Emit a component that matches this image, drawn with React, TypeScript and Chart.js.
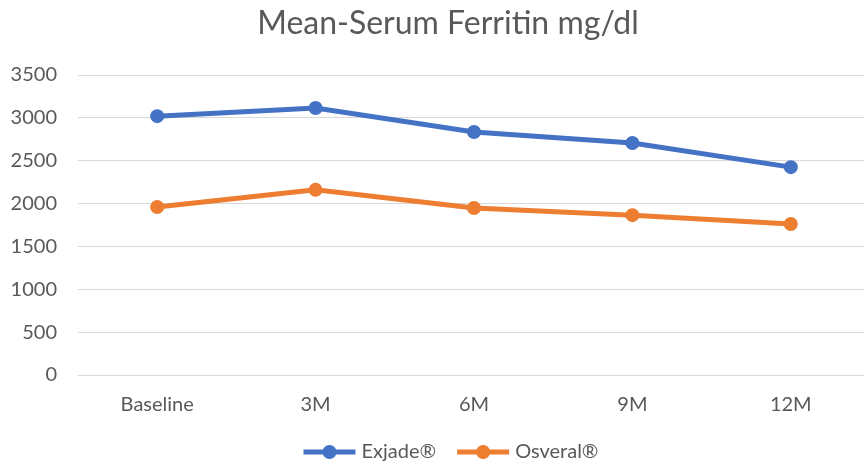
import React, { useEffect, useRef } from "react";
import { Chart, registerables } from "chart.js";

Chart.register(...registerables);

const categories = ["Baseline", "3M", "6M", "9M", "12M"];
const exjade = [3020, 3115, 2835, 2707, 2425];
const osveral = [1960, 2160, 1948, 1865, 1762];
const seriesNames = ["Exjade®", "Osveral®"];
const titleText = "Mean-Serum Ferritin mg/dl";

const BLUE = "#4472C4";
const ORANGE = "#ED7D31";
const GRAY = "#595959";
const FONT = "Lato, 'Open Sans', sans-serif";

export default function App() {
  const ref = useRef<HTMLCanvasElement | null>(null);
  useEffect(() => {
    if (!ref.current) return;
    const titlePlugin = {
      id: "customTitle",
      afterDraw(chart: any) {
        const ctx = chart.ctx;
        ctx.save();
        ctx.fillStyle = GRAY;
        ctx.font = `32px ${FONT}`;
        ctx.textAlign = "center";
        ctx.textBaseline = "middle";
        ctx.fillText(titleText, 448, 24);
        ctx.restore();
      },
    };
    const legendPlugin = {
      id: "customLegend",
      afterDraw(chart: any) {
        const ctx = chart.ctx;
        ctx.save();
        ctx.font = `20px ${FONT}`;
        ctx.textBaseline = "middle";
        const y = 452;
        const items = chart.data.datasets.map((d: any) => ({
          label: d.label,
          color: d.borderColor,
          w: ctx.measureText(d.label).width,
        }));
        const lineW = 52;
        const gapText = 6;
        const gapItem = 21;
        const total = items.reduce((s: number, it: any) => s + lineW + gapText + it.w, 0) + gapItem * (items.length - 1);
        let x = 451 - total / 2;
        items.forEach((it: any) => {
          ctx.strokeStyle = it.color;
          ctx.lineWidth = 5;
          ctx.beginPath();
          ctx.moveTo(x, y);
          ctx.lineTo(x + lineW, y);
          ctx.stroke();
          ctx.fillStyle = it.color;
          ctx.beginPath();
          ctx.arc(x + lineW / 2, y, 7, 0, Math.PI * 2);
          ctx.fill();
          ctx.fillStyle = GRAY;
          ctx.fillText(it.label, x + lineW + gapText, y);
          x += lineW + gapText + it.w + gapItem;
        });
        ctx.restore();
      },
    };
    const chart = new Chart(ref.current, {
      type: "line",
      data: {
        labels: categories,
        datasets: [
          {
            label: seriesNames[0],
            data: exjade,
            borderColor: BLUE,
            backgroundColor: BLUE,
            borderWidth: 5,
            pointRadius: 7,
            pointHoverRadius: 7,
            pointBorderWidth: 0,
          },
          {
            label: seriesNames[1],
            data: osveral,
            borderColor: ORANGE,
            backgroundColor: ORANGE,
            borderWidth: 5,
            pointRadius: 7,
            pointHoverRadius: 7,
            pointBorderWidth: 0,
          },
        ],
      },
      options: {
        animation: false,
        responsive: false,
        maintainAspectRatio: false,
        layout: { padding: { top: 75, right: 0, left: 0, bottom: 0 } },
        plugins: {
          legend: { display: false },
          title: { display: false },
          tooltip: { enabled: false },
        },
        scales: {
          x: {
            offset: true,
            grid: { display: false, drawTicks: false },
            border: { display: true, color: "#d9d9d9", width: 1 },
            ticks: { color: GRAY, font: { family: FONT, size: 20 }, padding: 18 },
            afterFit(scale: any) {
              scale.height = 92;
            },
          },
          y: {
            min: 0,
            max: 3500,
            ticks: {
              stepSize: 500,
              color: GRAY,
              font: { family: FONT, size: 20 },
              padding: 21,
              callback: (v: any) => String(v),
            },
            grid: { color: "#d9d9d9", lineWidth: 1, drawTicks: false },
            border: { display: false },
            afterFit(scale: any) {
              scale.width = 78;
            },
          },
        },
      },
      plugins: [titlePlugin, legendPlugin],
    });
    return () => chart.destroy();
  }, []);
  return (
    <div style={{ position: "absolute", left: 0, top: 0, width: 864, height: 467, overflow: "hidden", background: "#fff" }}>
      <canvas ref={ref} width={877} height={467} style={{ display: "block", width: 877, height: 467 }} />
    </div>
  );
}
